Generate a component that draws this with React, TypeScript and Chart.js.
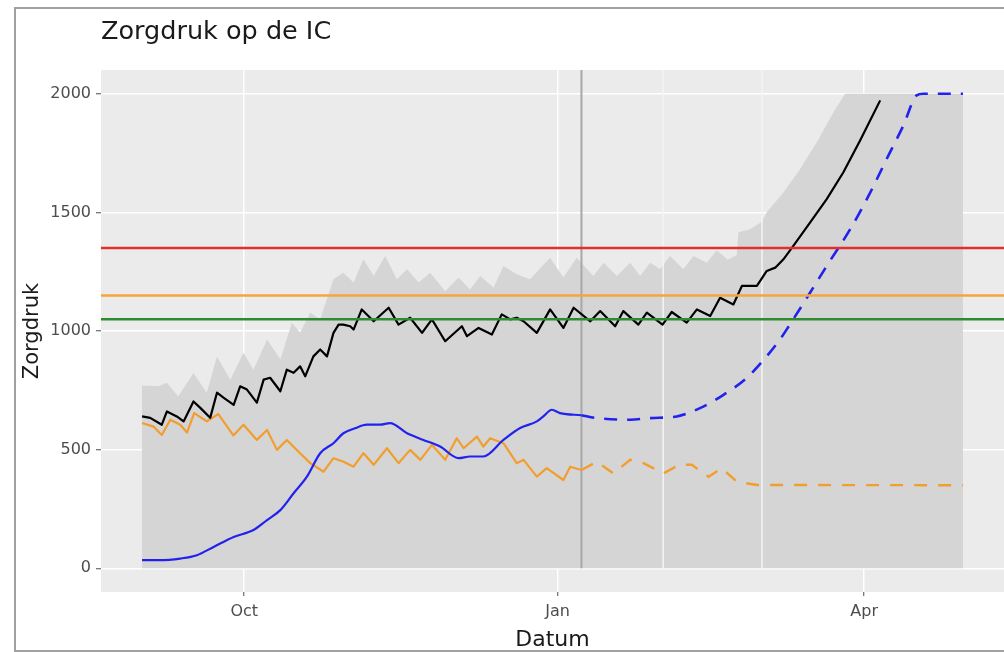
import React, { useEffect, useRef } from "react";
import { Chart, registerables } from "chart.js";

Chart.register(...registerables);

// ---- Data (x = days since 1 Sep 2020) ----
const ribbonDays = [0, 4.8, 7.3, 10.6, 15.1, 19.0, 22.0, 25.9, 29.8, 32.7, 36.7, 40.6, 44.0, 46.4, 49.4, 52.3, 56.2, 59.1, 62.1, 65.0, 68.0, 71.4, 74.8, 77.8, 81.2, 84.6, 89.0, 92.9, 96.3, 99.3, 103.2, 106.1, 110.0, 113.9, 119.8, 123.7, 127.6, 132.5, 135.5, 139.4, 143.3, 146.2, 149.2, 152.1, 155.0, 158.9, 161.9, 165.8, 168.7, 172.0, 174.6, 175.1, 178.5, 182.0, 183.4, 188.3, 193.2, 198.1, 203.0, 206.4, 241];
const ribbonValues = [770, 767, 782, 724, 823, 740, 893, 795, 908, 837, 964, 880, 1035, 993, 1077, 1049, 1218, 1246, 1204, 1302, 1232, 1316, 1218, 1260, 1204, 1246, 1168, 1225, 1175, 1232, 1182, 1274, 1239, 1218, 1309, 1225, 1309, 1232, 1288, 1232, 1288, 1232, 1288, 1260, 1316, 1260, 1316, 1288, 1340, 1300, 1320, 1416, 1429, 1460, 1500, 1584, 1683, 1796, 1922, 2000, 2000];

const blackDays = [0, 2.4, 5.8, 7.3, 10.2, 12.2, 15.1, 17.1, 20.0, 22.0, 23.9, 26.9, 28.8, 30.8, 33.7, 35.7, 37.6, 40.6, 42.5, 44.5, 46.4, 47.9, 50.3, 52.3, 54.3, 56.2, 57.7, 59.1, 61.1, 62.1, 64.5, 68.0, 72.4, 75.3, 78.7, 82.2, 85.1, 89.0, 93.9, 95.4, 98.8, 102.7, 105.6, 108.1, 110.0, 112.0, 115.9, 119.8, 123.7, 126.7, 131.6, 134.5, 138.9, 141.3, 145.7, 148.2, 152.8, 155.5, 159.9, 162.9, 166.8, 169.7, 173.6, 176.1, 180.5, 183.4, 185.9, 188.3, 191.2, 196.1, 201.0, 205.9, 210.8, 216.7];
const blackValues = [640, 634, 605, 661, 640, 619, 703, 676, 634, 740, 719, 689, 767, 753, 698, 795, 803, 746, 837, 824, 851, 809, 893, 922, 893, 992, 1027, 1027, 1020, 1006, 1091, 1041, 1098, 1027, 1056, 992, 1049, 957, 1020, 978, 1013, 985, 1070, 1049, 1056, 1041, 992, 1091, 1013, 1098, 1041, 1084, 1020, 1084, 1027, 1077, 1027, 1080, 1035, 1091, 1063, 1140, 1112, 1190, 1190, 1253, 1267, 1302, 1359, 1457, 1556, 1669, 1803, 1972];

const blueDays = [0, 5.3, 11.2, 16.1, 21.0, 26.9, 32.7, 36.7, 40.6, 44.5, 48.4, 52.3, 56.2, 59.1, 62.5, 66.0, 69.9, 72.8, 77.8, 82.6, 87.5, 92.9, 96.3, 100.2, 106.1, 111.0, 115.9, 117.8, 120.3, 122.7, 129];
const blueValues = [34, 34, 41, 55, 90, 132, 161, 203, 245, 316, 386, 485, 527, 569, 590, 605, 605, 612, 569, 541, 513, 464, 471, 471, 541, 591, 619, 640, 668, 654, 645];

const blueForecastDays = [129, 133.5, 143.3, 149.2, 157.0, 163.8, 170.7, 177.5, 182.6, 187.3, 190.3, 196.1, 201.0, 207.9, 213.8, 218.6, 223.5, 227.4, 229.4, 241];
const blueForecastValues = [645, 633, 626, 633, 640, 675, 731, 802, 880, 965, 1030, 1161, 1274, 1429, 1584, 1725, 1866, 1993, 2000, 2000];

const orangeDays = [0, 3.4, 5.8, 8.3, 11.2, 13.2, 15.3, 19.0, 22.4, 26.8, 29.8, 33.7, 36.7, 39.6, 42.5, 46.4, 49.4, 53.3, 56.2, 59.0, 62.1, 65.0, 68.0, 71.9, 75.3, 78.7, 81.7, 85.1, 89.0, 92.4, 94.4, 98.3, 100.2, 102.2, 106.1, 110.0, 112.0, 115.9, 118.8, 123.7, 125.7, 129];
const orangeValues = [612, 597, 562, 626, 605, 572, 654, 619, 650, 560, 605, 541, 583, 499, 541, 485, 443, 407, 464, 450, 428, 485, 436, 506, 443, 499, 457, 520, 457, 548, 506, 555, 513, 548, 527, 443, 457, 386, 422, 372, 428, 414];

const orangeForecastDays = [129, 133.5, 138.4, 143.3, 147.2, 153.1, 157.7, 161.4, 166.3, 170.2, 174.6, 180.5, 241];
const orangeForecastValues = [414, 449, 400, 457, 443, 400, 436, 436, 386, 422, 365, 351, 350];

const thresholdValues = [1350, 1150, 1050];
const todayDay = 129;
const markerDays = [153, 182];

const xTickDays = [30, 122, 212];
const xTickLabels = ["Oct", "Jan", "Apr"];
const yTickValues = [0, 500, 1000, 1500, 2000];

const xMin = -12.05;
const xMax = 253.05;
const yMin = -100;
const yMax = 2100;

// ---- Styles ----
const FONT = "'DejaVu Sans', Verdana, sans-serif";
const thresholdColors = ["#E52D2D", "#F5A638", "#2E8B2E"];

const zip = (xs: number[], ys: number[]) => xs.map((x, i) => ({ x, y: ys[i] }));

const panelBg = {
  id: "panelBg",
  beforeDraw(chart: any) {
    const { ctx, chartArea } = chart;
    ctx.save();
    ctx.fillStyle = "#EBEBEB";
    ctx.fillRect(chartArea.left, chartArea.top, chartArea.right - chartArea.left, chartArea.bottom - chartArea.top);
    ctx.restore();
  },
};

export default function App() {
  const canvasRef = useRef<HTMLCanvasElement | null>(null);

  useEffect(() => {
    if (!canvasRef.current) return;

    const lineBase = { pointRadius: 0, pointHoverRadius: 0, fill: false };

    const datasets: any[] = [
      {
        ...lineBase,
        label: "band",
        data: zip(ribbonDays, ribbonValues),
        borderWidth: 0,
        borderColor: "rgba(0,0,0,0)",
        backgroundColor: "#D5D5D5",
        fill: "origin",
        order: 20,
      },
      ...markerDays.map((d) => ({
        ...lineBase,
        label: "marker",
        data: [{ x: d, y: 0 }, { x: d, y: yMax }],
        borderColor: "#F4F4F4",
        borderWidth: 1.5,
        order: 15,
      })),
      {
        ...lineBase,
        label: "today",
        data: [{ x: todayDay, y: 0 }, { x: todayDay, y: yMax }],
        borderColor: "#A8A8A8",
        borderWidth: 2,
        order: 14,
      },
      {
        ...lineBase,
        label: "orange",
        data: zip(orangeDays, orangeValues),
        borderColor: "#F29E2E",
        borderWidth: 2.2,
        borderJoinStyle: "round",
        order: 8,
      },
      {
        ...lineBase,
        label: "orange forecast",
        data: zip(orangeForecastDays, orangeForecastValues),
        borderColor: "#F29E2E",
        borderWidth: 2.4,
        borderDash: [13, 11],
        order: 8,
      },
      {
        ...lineBase,
        label: "blue",
        data: zip(blueDays, blueValues),
        borderColor: "#2222EE",
        borderWidth: 2.2,
        cubicInterpolationMode: "monotone",
        order: 7,
      },
      {
        ...lineBase,
        label: "blue forecast",
        data: zip(blueForecastDays, blueForecastValues),
        borderColor: "#2222EE",
        borderWidth: 2.6,
        borderDash: [13, 10],
        cubicInterpolationMode: "monotone",
        order: 7,
      },
      {
        ...lineBase,
        label: "black",
        data: zip(blackDays, blackValues),
        borderColor: "#000000",
        borderWidth: 2.2,
        borderJoinStyle: "round",
        order: 6,
      },
      ...thresholdValues.map((v, i) => ({
        ...lineBase,
        label: "threshold",
        data: [{ x: xMin, y: v }, { x: xMax, y: v }],
        borderColor: thresholdColors[i],
        borderWidth: 2.5,
        order: 2,
      })),
    ];

    const chart = new Chart(canvasRef.current, {
      type: "line",
      data: { datasets },
      plugins: [panelBg],
      options: {
        animation: false,
        responsive: false,
        devicePixelRatio: 1,
        layout: { padding: { left: 0, right: 0, top: 0, bottom: 0 } },
        plugins: {
          legend: { display: false },
          tooltip: { enabled: false },
          title: {
            display: true,
            text: "Zorgdruk op de IC",
            align: "start",
            fullSize: false,
            color: "#1A1A1A",
            font: { family: FONT, size: 25.5, weight: "normal", lineHeight: 1 },
            padding: { top: 20, bottom: 24.5 },
          },
        },
        scales: {
          x: {
            type: "linear",
            min: xMin,
            max: xMax,
            afterBuildTicks: (s: any) => {
              s.ticks = xTickDays.map((v) => ({ value: v }));
            },
            afterFit: (s: any) => {
              s.height = 60;
            },
            ticks: {
              autoSkip: false,
              maxRotation: 0,
              color: "#4D4D4D",
              padding: 8,
              font: { family: FONT, size: 16, lineHeight: 1 },
              callback: (v: any) => {
                const i = xTickDays.indexOf(Number(v));
                return i >= 0 ? xTickLabels[i] : "";
              },
            },
            grid: {
              color: "#FFFFFF",
              lineWidth: 1.5,
              tickLength: 4,
              tickColor: "#4D4D4D",
              tickWidth: 1,
            },
            border: { display: false },
            title: {
              display: true,
              text: "Datum",
              color: "#1A1A1A",
              font: { family: FONT, size: 22, lineHeight: 1 },
              padding: { top: 0, bottom: 1 },
            },
          },
          y: {
            type: "linear",
            min: yMin,
            max: yMax,
            afterBuildTicks: (s: any) => {
              s.ticks = yTickValues.map((v) => ({ value: v }));
            },
            afterFit: (s: any) => {
              s.width = 101;
            },
            ticks: {
              color: "#4D4D4D",
              padding: 5,
              font: { family: FONT, size: 16, lineHeight: 1 },
              callback: (v: any) => String(v),
            },
            grid: {
              color: "#FFFFFF",
              lineWidth: 1.5,
              tickLength: 5,
              tickColor: "#4D4D4D",
              tickWidth: 1,
            },
            border: { display: false },
            title: {
              display: true,
              text: "Zorgdruk",
              color: "#1A1A1A",
              font: { family: FONT, size: 21, lineHeight: 1 },
              padding: { top: 22, bottom: 0 },
            },
          },
        },
      } as any,
    });

    return () => chart.destroy();
  }, []);

  return (
    <div
      style={{
        position: "fixed",
        left: 0,
        top: 0,
        width: 1004,
        height: 652,
        background: "#FFFFFF",
        overflow: "hidden",
      }}
    >
      <canvas ref={canvasRef} width={1004} height={652} style={{ width: 1004, height: 652, display: "block" }} />
      <div
        style={{
          position: "absolute",
          left: 14,
          top: 7,
          width: 1100,
          height: 641,
          border: "2px solid #A0A0A0",
          pointerEvents: "none",
        }}
      />
    </div>
  );
}
